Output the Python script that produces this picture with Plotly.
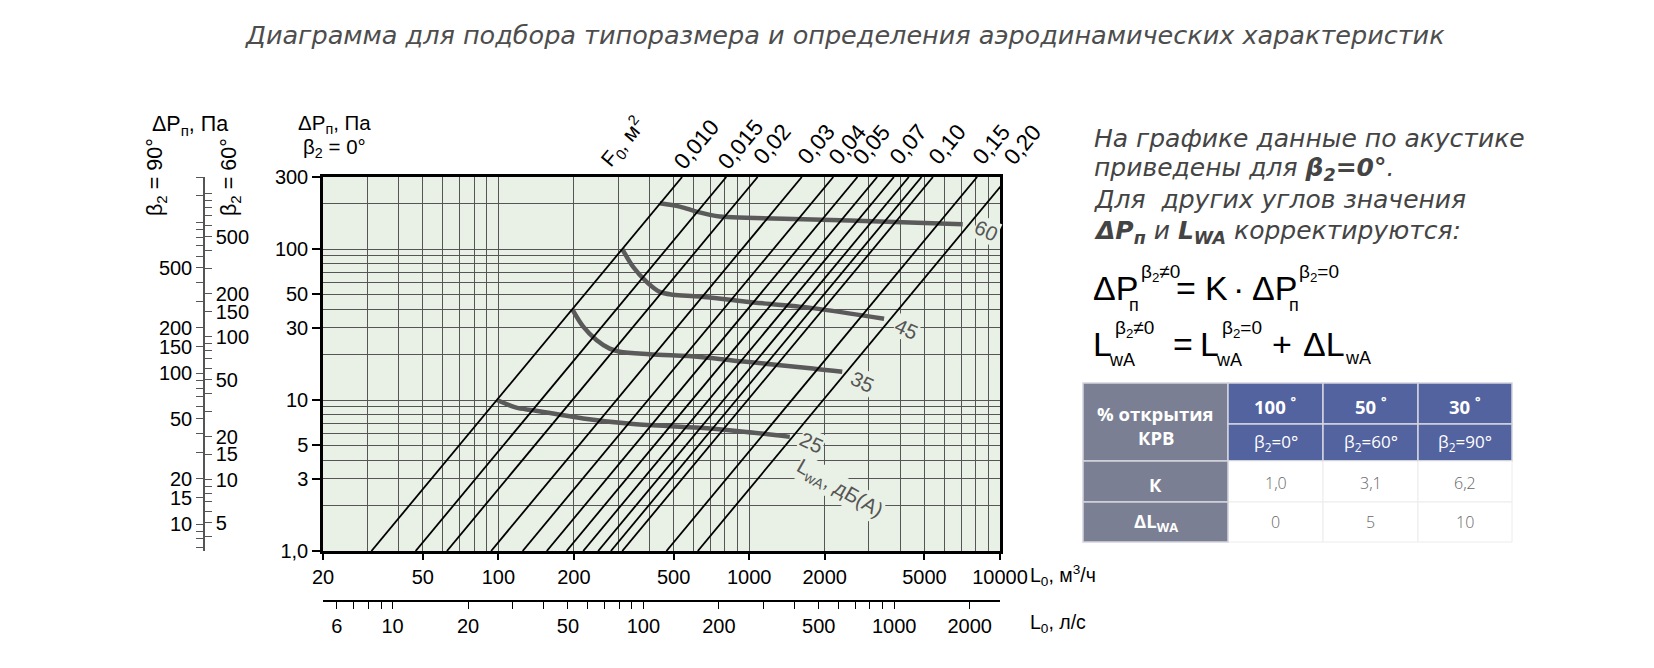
import math
import plotly.graph_objects as go

W, H = 1654, 668


def px(x):
    return x / W


def py(y):
    return 1 - y / H


# ---------------- data ----------------
title_text = "Диаграмма для подбора типоразмера и определения аэродинамических характеристик"

flow_range = [20, 10000]                      # L0, m3/h
dp_range = [1, 300]                           # dP, Pa (beta2 = 0)
flow_ticks = [20, 50, 100, 200, 500, 1000, 2000, 5000, 10000]
flow_grid = [30, 40, 60, 70, 80, 90, 300, 400, 600, 700, 800, 900,
             3000, 4000, 6000, 7000, 8000, 9000]
flow_ls_ticks = [6, 7, 8, 9, 10, 20, 30, 40, 50, 60, 70, 80, 90, 100, 200,
                 300, 400, 500, 600, 700, 800, 900, 1000, 2000]
flow_ls_labeled = [6, 10, 20, 50, 100, 200, 500, 1000, 2000]
m3h_per_ls = 3.6
ls_scale_offset = 0.022   # the l/s scale is printed slightly shifted in the source

dp_ticks = [1, 3, 5, 10, 30, 50, 100, 300]
dp_ticktext = ["1,0", "3", "5", "10", "30", "50", "100", "300"]
dp_grid = [2, 4, 6, 7, 8, 9, 20, 40, 60, 70, 80, 90, 200]

dp90_ticks = [7, 8, 9, 10, 15, 20, 30, 40, 50, 60, 70, 80, 90, 100, 150, 200,
              300, 400, 500, 600, 700, 800, 900, 1000, 1500, 2000]
dp90_labeled = [10, 15, 20, 50, 100, 150, 200, 500]
dp90_range_log = [0.8225, 3.302]
dp60_ticks = [4, 5, 6, 7, 8, 9, 10, 15, 20, 30, 40, 50, 60, 70, 80, 90, 100,
              150, 200, 300, 400, 500, 600, 700, 800, 900, 1000]
dp60_labeled = [5, 10, 15, 20, 50, 100, 150, 200, 500]
dp60_range_log = [0.501, 3.117]

f0_values = [0.010, 0.015, 0.02, 0.03, 0.04, 0.05, 0.06, 0.07, 0.08, 0.09, 0.10, 0.15, 0.20]
f0_labels = ["0,010", "0,015", "0,02", "0,03", "0,04", "0,05", "", "0,07", "", "", "0,10", "0,15", "0,20"]
flow_at_1pa = [31.2, 46.8, 62.4, 93.6, 125, 156, 187, 218, 250, 281, 312, 468, 624]

lwa_levels = ["25", "35", "45", "60"]
lwa25_flow = [98.7, 118, 138, 218, 345, 635, 975, 1452]
lwa25_dp = [10.0, 8.9, 8.55, 7.55, 6.93, 6.55, 6.15, 5.7]
lwa35_flow = [197, 218, 246, 278, 305, 400, 635, 975, 1792, 2350]
lwa35_dp = [40, 30.6, 25.0, 21.9, 20.9, 20.1, 19.3, 17.9, 16.2, 15.4]
lwa45_flow = [312, 345, 390, 440, 497, 635, 975, 1792, 3450]
lwa45_dp = [100, 76, 60.6, 52, 49.8, 48.5, 44.8, 40.6, 34.5]
lwa60_flow = [440, 529, 616, 763, 975, 1792, 3311, 7100]
lwa60_dp = [201, 191, 177, 164, 161, 157, 152, 146]

table_openings = ["100", "50", "30"]
table_angles = ["0°", "60°", "90°"]
table_K = ["1,0", "3,1", "6,2"]
table_dL = ["0", "5", "10"]

# ---------------- style ----------------
chart_font = "Liberation Sans, Arial, Helvetica, sans-serif"
text_font = "DejaVu Sans, Open Sans, sans-serif"
table_font = "Open Sans, Lato, sans-serif"
grid_col = "#555555"
plot_bg = "#e9f0e5"
curve_col = "#5a5a5a"

# plot area in pixels
PX0, PX1 = 323, 1000
PY0, PY1 = 177, 551   # top, bottom


def flow_to_px(L):
    a, b = math.log10(flow_range[0]), math.log10(flow_range[1])
    return PX0 + (math.log10(L) - a) / (b - a) * (PX1 - PX0)


fig = go.Figure()

# acoustic curves
curves = [(lwa25_flow, lwa25_dp), (lwa35_flow, lwa35_dp),
          (lwa45_flow, lwa45_dp), (lwa60_flow, lwa60_dp)]
for L, dp in curves:
    fig.add_trace(go.Scatter(x=L, y=dp, mode="lines",
                             line=dict(color=curve_col, width=4.5, shape="spline", smoothing=0.9),
                             hoverinfo="skip", showlegend=False))

# F0 lines: dP ~ L^2
for L1 in flow_at_1pa:
    L_top = L1 * math.sqrt(dp_range[1] / dp_range[0])
    fig.add_trace(go.Scatter(x=[L1, L_top], y=[dp_range[0], dp_range[1]], mode="lines",
                             line=dict(color="black", width=1.8),
                             hoverinfo="skip", showlegend=False))

# invisible traces to activate the extra axes
fig.add_trace(go.Scatter(x=[100], y=[10], xaxis="x2", yaxis="y", mode="markers",
                         marker=dict(opacity=0), hoverinfo="skip", showlegend=False))
fig.add_trace(go.Scatter(x=[100], y=[100], xaxis="x", yaxis="y2", mode="markers",
                         marker=dict(opacity=0), hoverinfo="skip", showlegend=False))
fig.add_trace(go.Scatter(x=[100], y=[100], xaxis="x", yaxis="y3", mode="markers",
                         marker=dict(opacity=0), hoverinfo="skip", showlegend=False))

annotations = []


def add_text(x, y, text, size=20, color="black", family=chart_font, angle=0,
             xanchor="center", yanchor="middle", style="normal", weight="normal", bg=None):
    d = dict(x=px(x), y=py(y), xref="paper", yref="paper", text=text, showarrow=False,
             font=dict(size=size, color=color, family=family, style=style, weight=weight),
             textangle=angle, xanchor=xanchor, yanchor=yanchor)
    if bg:
        d["bgcolor"] = bg
    annotations.append(d)


# title
add_text(845, 35, title_text, size=25.5, color="#4d4d4d", family=text_font, style="italic", weight=200)

# axis titles
add_text(190, 125, "ΔP<sub>п</sub>, Па", size=21.5)
add_text(156, 177, "β<sub>2</sub> = 90°", size=21.5, angle=-90)
add_text(230, 177, "β<sub>2</sub> = 60°", size=21.5, angle=-90)
add_text(334, 124, "ΔP<sub>п</sub>, Па", size=20.5)
add_text(334, 148, "β<sub>2</sub> = 0°", size=20.5)
add_text(1028, 575, "L<sub>0</sub>, м<sup>3</sup>/ч", size=19.5, xanchor="left")
add_text(1028, 623, "L<sub>0</sub>, л/с", size=19.5, xanchor="left")
add_text(623, 143, "F<sub>0</sub>, м<sup>2</sup>", size=21, angle=-50)

# F0 labels
for L1, lab in zip(flow_at_1pa, f0_labels):
    if not lab:
        continue
    L_top = L1 * math.sqrt(dp_range[1] / dp_range[0])
    add_text(flow_to_px(L_top) + 14, 144, lab, size=22.5, angle=-50)

# curve labels (data coordinates)
label_offsets = {"25": (22, -6), "35": (20, -10), "45": (22, -10), "60": (24, -6)}
for (L, dp), lev in zip(curves, lwa_levels):
    dx, dy = label_offsets[lev]
    annotations.append(dict(x=math.log10(L[-1]), y=math.log10(dp[-1]), xref="x", yref="y",
                            text=lev, showarrow=False, xshift=dx, yshift=dy, textangle=25,
                            font=dict(size=20.5, color="#555555", family=chart_font),
                            bgcolor=plot_bg, borderpad=0))
annotations.append(dict(x=math.log10(lwa25_flow[-1]), y=math.log10(lwa25_dp[-1]), xref="x", yref="y",
                        text="L<sub>wA</sub>, дБ(А)", showarrow=False, xshift=50, yshift=-52,
                        textangle=30, font=dict(size=20.5, color="#555555", family=chart_font),
                        bgcolor=plot_bg, borderpad=0))

# right-hand text
rt = dict(size=25, color="#444444", family=text_font, style="italic", weight=200, xanchor="left")
add_text(1092, 138, "На графике данные по акустике", **rt)
add_text(1092, 169, "приведены для <b>β<sub>2</sub>=0°</b>.", **rt)
add_text(1092, 200, "Для  других углов значения", **rt)
add_text(1092, 232, "<b>ΔP<sub>п</sub></b> и <b>L<sub>WA</sub></b> корректируются:", **rt)

# formulas (placed piece by piece: main symbols, subscripts, superscripts)
F = 34
SUP = 19
SUB = 18
add_text(1091, 288, "ΔP", size=F, xanchor="left")
add_text(1127, 305, "п", size=SUB, xanchor="left")
add_text(1139, 273, "β<sub>2</sub>≠0", size=SUP, xanchor="left")
add_text(1174, 288, "=", size=F, xanchor="left")
add_text(1203, 288, "K", size=F, xanchor="left")
add_text(1238, 288, "·", size=F, xanchor="center")
add_text(1250, 288, "ΔP", size=F, xanchor="left")
add_text(1287, 305, "п", size=SUB, xanchor="left")
add_text(1297, 273, "β<sub>2</sub>=0", size=SUP, xanchor="left")

add_text(1091, 344, "L", size=F, xanchor="left")
add_text(1107, 360, "wA", size=SUB, xanchor="left")
add_text(1113, 329, "β<sub>2</sub>≠0", size=SUP, xanchor="left")
add_text(1171, 344, "=", size=F, xanchor="left")
add_text(1198, 344, "L", size=F, xanchor="left")
add_text(1214, 360, "wA", size=SUB, xanchor="left")
add_text(1220, 329, "β<sub>2</sub>=0", size=SUP, xanchor="left")
add_text(1270, 344, "+", size=F, xanchor="left")
add_text(1301, 344, "ΔL", size=F, xanchor="left")
add_text(1343, 358, "wA", size=SUB, xanchor="left")

# table
shapes = []
gray = "#7b7f93"
blue = "#5363a0"
cx = [1083, 1228, 1323, 1418, 1512]
ry = [383, 424, 461, 502, 542]


def rect(x0, y0, x1, y1, fill, line_col, lw=1.5):
    shapes.append(dict(type="rect", xref="paper", yref="paper", x0=px(x0), x1=px(x1),
                       y0=py(y1), y1=py(y0), fillcolor=fill, line=dict(color=line_col, width=lw),
                       layer="above"))


rect(cx[0], ry[0], cx[1], ry[2], gray, "#d3d5de")
for i in range(3):
    rect(cx[i + 1], ry[0], cx[i + 2], ry[1], blue, "#d3d5de")
    rect(cx[i + 1], ry[1], cx[i + 2], ry[2], blue, "#d3d5de")
    rect(cx[i + 1], ry[2], cx[i + 2], ry[3], "white", "#ececec", 1)
    rect(cx[i + 1], ry[3], cx[i + 2], ry[4], "white", "#ececec", 1)
rect(cx[0], ry[2], cx[1], ry[3], gray, "#d3d5de")
rect(cx[0], ry[3], cx[1], ry[4], gray, "#d3d5de")

tf = table_font
add_text(1155.5, 414, "% открытия", size=18.5, color="white", family=tf, weight="bold")
add_text(1155.5, 437, "КРВ", size=18.5, color="white", family=tf, weight="bold")
add_text(1155.5, 484, "К", size=18.5, color="white", family=tf, weight="bold")
add_text(1155.5, 522, "ΔL<sub>WA</sub>", size=18.5, color="white", family=tf, weight="bold")
for i in range(3):
    cxm = (cx[i + 1] + cx[i + 2]) / 2
    add_text(cxm, 405, table_openings[i] + " <sup>°</sup>", size=18.5, color="white", family=tf, weight="bold")
    add_text(cxm, 442, "β<sub>2</sub>=" + table_angles[i], size=17, color="white", family=tf)
    add_text(cxm, 483, table_K[i], size=16, color="#666666", family=tf, weight=300)
    add_text(cxm, 522, table_dL[i], size=16, color="#666666", family=tf, weight=300)

tickfont = dict(family=chart_font, size=20, color="black")

fig.update_layout(
    template="none",
    width=W, height=H,
    margin=dict(l=0, r=0, t=0, b=0),
    paper_bgcolor="white",
    plot_bgcolor=plot_bg,
    showlegend=False,
    xaxis=dict(type="log", range=[math.log10(flow_range[0]), math.log10(flow_range[1])],
               domain=[px(PX0), px(PX1)], tickvals=flow_ticks, ticktext=[str(v) for v in flow_ticks],
               ticks="outside", ticklen=6, tickwidth=1.5, tickcolor="black",
               showline=True, linewidth=2.5, linecolor="black", mirror=True,
               showgrid=True, gridcolor=grid_col, gridwidth=1,
               minor=dict(tickvals=flow_grid, showgrid=True, gridcolor=grid_col, gridwidth=1, ticks=""),
               tickfont=tickfont, zeroline=False, automargin=False, fixedrange=True),
    yaxis=dict(type="log", range=[math.log10(dp_range[0]), math.log10(dp_range[1])],
               domain=[py(PY1), py(PY0)], tickvals=dp_ticks, ticktext=dp_ticktext,
               ticks="outside", ticklen=8, tickwidth=1.5, tickcolor="black",
               showline=True, linewidth=2.5, linecolor="black", mirror=True,
               showgrid=True, gridcolor=grid_col, gridwidth=1,
               minor=dict(tickvals=dp_grid, showgrid=True, gridcolor=grid_col, gridwidth=1, ticks=""),
               tickfont=tickfont, zeroline=False, automargin=False, fixedrange=True),
    xaxis2=dict(type="log", overlaying="x", anchor="free", position=py(601), side="bottom",
                range=[math.log10(flow_range[0] / m3h_per_ls) - ls_scale_offset,
                       math.log10(flow_range[1] / m3h_per_ls) - ls_scale_offset],
                tickvals=flow_ls_ticks,
                ticktext=[str(v) if v in flow_ls_labeled else "" for v in flow_ls_ticks],
                ticks="outside", ticklen=7, tickwidth=1.2, tickcolor="black",
                showline=True, linewidth=1.5, linecolor="black", showgrid=False,
                tickfont=tickfont, zeroline=False, automargin=False, fixedrange=True),
    yaxis2=dict(type="log", overlaying="y", anchor="free", position=px(204), side="left",
                range=dp90_range_log, tickvals=dp90_ticks,
                ticktext=[str(v) if v in dp90_labeled else "" for v in dp90_ticks],
                ticks="outside", ticklen=7, tickwidth=1.2, tickcolor="#555555",
                showline=True, linewidth=1.5, linecolor="#555555", showgrid=False,
                tickfont=tickfont, zeroline=False, automargin=False, fixedrange=True),
    yaxis3=dict(type="log", overlaying="y", anchor="free", position=px(204), side="right",
                range=dp60_range_log, tickvals=dp60_ticks,
                ticktext=[str(v) if v in dp60_labeled else "" for v in dp60_ticks],
                ticks="outside", ticklen=7, tickwidth=1.2, tickcolor="#555555",
                showline=True, linewidth=1.5, linecolor="#555555", showgrid=False,
                tickfont=tickfont, zeroline=False, automargin=False, fixedrange=True),
    annotations=annotations,
    shapes=shapes,
)

fig.write_html("out.html")
